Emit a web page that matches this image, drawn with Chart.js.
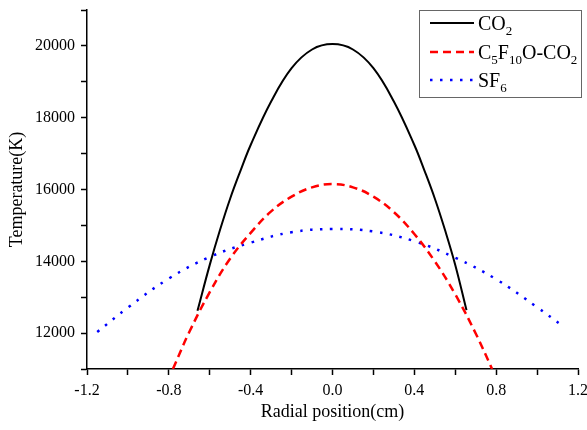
<!DOCTYPE html>
<html>
<head>
<meta charset="utf-8">
<script src="https://cdn.jsdelivr.net/npm/chart.js@4.4.1/dist/chart.umd.min.js"></script>
<style>
    html, body { margin: 0; padding: 0; background: #fff; }
    #wrap { width: 587px; height: 430px; }
</style>
</head>
<body>
<div id="wrap"><canvas id="tempChart" width="587" height="430"></canvas></div>
<script>
// radial temperature profiles
const co2X = [-0.66, -0.6, -0.55, -0.5, -0.45, -0.4, -0.3, -0.2, -0.1, 0, 0.1, 0.2, 0.3, 0.4, 0.45, 0.5, 0.55, 0.6, 0.655];
const co2Y = [12620, 13900, 14870, 15750, 16520, 17240, 18450, 19380, 19900, 20050, 19900, 19380, 18450, 17240, 16520, 15750, 14870, 13900, 12640];

const c5X = [-0.78, -0.7, -0.6, -0.5, -0.4, -0.3, -0.2, -0.1, 0, 0.1, 0.2, 0.3, 0.4, 0.5, 0.6, 0.7, 0.78];
const c5Y = [11000, 12030, 13140, 14080, 14790, 15390, 15800, 16060, 16150, 16060, 15800, 15370, 14760, 14000, 13080, 11990, 11000];

const sf6X = [-1.15, -1.0, -0.8, -0.6, -0.4, -0.2, 0, 0.2, 0.4, 0.6, 0.8, 1.0, 1.125];
const sf6Y = [12030, 12710, 13520, 14120, 14520, 14810, 14900, 14830, 14560, 14100, 13500, 12720, 12200];

const seriesLabels = ['CO₂', 'C₅F₁₀O-CO₂', 'SF₆'];

const xTitle = 'Radial position(cm)';
const yTitle = 'Temperature(K)';

const SERIF = "'Liberation Serif', 'Times New Roman', serif";

function toPoints(xs, ys) {
    return xs.map((x, i) => ({ x: x, y: ys[i] }));
}

// legend in a box inside the plot, digits drawn as subscripts
const subs = '₀₁₂₃₄₅₆₇₈₉';
const boxLegend = {
    id: 'boxLegend',
    afterDraw(chart) {
        const ctx = chart.ctx;
        ctx.save();
        ctx.strokeStyle = '#666';
        ctx.lineWidth = 1;
        ctx.strokeRect(419.5, 10.5, 162, 87);

        const rows = [23, 52, 80];
        chart.data.datasets.forEach((ds, i) => {
            const y = rows[i];
            ctx.beginPath();
            ctx.strokeStyle = ds.borderColor;
            ctx.lineWidth = ds.borderWidth;
            ctx.setLineDash(ds.borderDash || []);
            ctx.moveTo(430, y);
            ctx.lineTo(474, y);
            ctx.stroke();
            ctx.setLineDash([]);

            let x = 478;
            ctx.fillStyle = '#000';
            ctx.textBaseline = 'alphabetic';
            ctx.textAlign = 'left';
            for (const ch of ds.label) {
                const k = subs.indexOf(ch);
                if (k >= 0) {
                    ctx.font = '13px ' + SERIF;
                    ctx.fillText(String(k), x, y + 12);
                    x += ctx.measureText(String(k)).width;
                } else {
                    ctx.font = '20px ' + SERIF;
                    ctx.fillText(ch, x, y + 7);
                    x += ctx.measureText(ch).width;
                }
            }
        });
        ctx.restore();
    }
};

const ctx = document.getElementById('tempChart').getContext('2d');

new Chart(ctx, {
    type: 'line',
    data: {
        datasets: [{
            label: seriesLabels[0],
            data: toPoints(co2X, co2Y),
            borderColor: '#000000',
            borderWidth: 2,
            pointRadius: 0,
            tension: 0.4
        }, {
            label: seriesLabels[1],
            data: toPoints(c5X, c5Y),
            borderColor: '#ff0000',
            borderWidth: 2.5,
            borderDash: [8, 5],
            pointRadius: 0,
            tension: 0.4
        }, {
            label: seriesLabels[2],
            data: toPoints(sf6X, sf6Y),
            borderColor: '#0000ff',
            borderWidth: 2.5,
            borderDash: [2.5, 7.5],
            pointRadius: 0,
            tension: 0.4
        }]
    },
    options: {
        responsive: false,
        animation: false,
        layout: { padding: { top: 10, right: 9, left: 0, bottom: 0 } },
        plugins: {
            legend: { display: false },
            tooltip: { enabled: false }
        },
        scales: {
            x: {
                type: 'linear',
                min: -1.2,
                max: 1.2,
                afterFit: (s) => { s.height = 61; s.paddingLeft = 0; s.paddingRight = 0; },
                border: { display: true, color: '#000', width: 1.5 },
                grid: { drawOnChartArea: false, drawTicks: true, tickLength: 6, color: '#000', tickWidth: 1.5 },
                ticks: {
                    stepSize: 0.2,
                    autoSkip: false,
                    maxRotation: 0,
                    padding: 6,
                    color: '#000',
                    font: { family: SERIF, size: 16 },
                    callback: (v) => {
                        const t = Math.round(v * 10);
                        return t % 4 === 0 ? (t / 10).toFixed(1) : '';
                    }
                },
                title: {
                    display: true,
                    text: xTitle,
                    color: '#000',
                    font: { family: SERIF, size: 18 },
                    padding: { top: 0, bottom: 7 }
                }
            },
            y: {
                min: 11000,
                max: 21000,
                afterFit: (s) => { s.width = 87; s.paddingTop = 0; s.paddingBottom = 0; },
                border: { display: true, color: '#000', width: 1.5 },
                grid: { drawOnChartArea: false, drawTicks: true, tickLength: 6, color: '#000', tickWidth: 1.5 },
                ticks: {
                    stepSize: 1000,
                    autoSkip: false,
                    padding: 6,
                    color: '#000',
                    font: { family: SERIF, size: 16 },
                    callback: (v) => (v % 2000 === 0 ? String(v) : '')
                },
                title: {
                    display: true,
                    text: yTitle,
                    color: '#000',
                    font: { family: SERIF, size: 18 },
                    padding: { top: 6, bottom: 0 }
                }
            }
        }
    },
    plugins: [boxLegend]
});
</script>
</body>
</html>
